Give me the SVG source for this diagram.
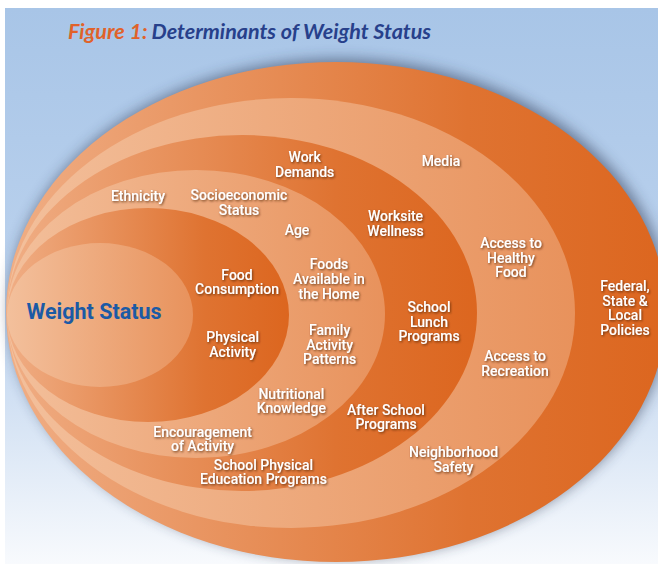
<svg xmlns="http://www.w3.org/2000/svg" width="658" height="564" viewBox="0 0 658 564">
  <defs>
    <linearGradient id="bg" x1="0" y1="0" x2="0" y2="1">
      <stop offset="0" stop-color="#a8c5e7"/>
      <stop offset="0.55" stop-color="#bdd3ee"/>
      <stop offset="1" stop-color="#f8fafd"/>
    </linearGradient>
    <linearGradient id="dark" x1="0" y1="0" x2="1" y2="0">
      <stop offset="0" stop-color="#f0ae85"/>
      <stop offset="0.7" stop-color="#df7331"/>
      <stop offset="1" stop-color="#dc661f"/>
    </linearGradient>
    <linearGradient id="light" x1="0" y1="0" x2="1" y2="0">
      <stop offset="0" stop-color="#f3c09c"/>
      <stop offset="1" stop-color="#e8925c"/>
    </linearGradient>
    <filter id="shadow" x="-10%" y="-10%" width="120%" height="120%">
      <feGaussianBlur stdDeviation="7"/>
    </filter>
    <filter id="ts" x="-10%" y="-30%" width="120%" height="160%">
      <feDropShadow dx="1" dy="1.2" stdDeviation="0.8" flood-color="#4a2410" flood-opacity="0.75"/>
    </filter>
    <style>
      .lbl { font-family: Roboto, "Liberation Sans", sans-serif; font-size: 14px; font-weight: 500; fill: #ffffff; text-anchor: middle; filter: url(#ts); }
      .dk { fill: url(#dark); }
      .lt { fill: url(#light); }
      .title { font-family: Lato, "Open Sans", sans-serif; font-size: 21.5px; font-weight: bold; font-style: italic; }
    </style>
  </defs>

  <rect x="0" y="0" width="658" height="564" fill="#ffffff"/>
  <rect x="5" y="8" width="653" height="556" fill="url(#bg)"/>

  <g id="title">
    <text class="title" x="68" y="39"><tspan fill="#e0622a">Figure 1:</tspan><tspan fill="#27408b" dx="4">Determinants of Weight Status</tspan></text>
  </g>

  <ellipse cx="339" cy="309" rx="330" ry="250" fill="#2a3550" opacity="0.55" filter="url(#shadow)"/>

  <g id="ring-policies">
    <ellipse class="dk" cx="336" cy="312" rx="330" ry="250"/>
    <text class="lbl" x="625" y="291">Federal,</text>
    <text class="lbl" x="625" y="305.7">State &amp;</text>
    <text class="lbl" x="625" y="320.3">Local</text>
    <text class="lbl" x="625" y="335">Policies</text>
  </g>

  <g id="ring-community">
    <ellipse class="lt" cx="291" cy="313" rx="284" ry="215"/>
    <text class="lbl" x="441" y="166">Media</text>
    <text class="lbl" x="511" y="248.3">Access to</text>
    <text class="lbl" x="511" y="262.7">Healthy</text>
    <text class="lbl" x="511" y="277">Food</text>
    <text class="lbl" x="515" y="361">Access to</text>
    <text class="lbl" x="515" y="375.7">Recreation</text>
    <text class="lbl" x="453.5" y="457.3">Neighborhood</text>
    <text class="lbl" x="453.5" y="472">Safety</text>
  </g>

  <g id="ring-organizational">
    <ellipse class="dk" cx="242" cy="313" rx="235" ry="178"/>
    <text class="lbl" x="304.7" y="162">Work</text>
    <text class="lbl" x="304.7" y="176.7">Demands</text>
    <text class="lbl" x="395.5" y="221">Worksite</text>
    <text class="lbl" x="395.5" y="236">Wellness</text>
    <text class="lbl" x="429" y="312.3">School</text>
    <text class="lbl" x="429" y="326.7">Lunch</text>
    <text class="lbl" x="429" y="340.7">Programs</text>
    <text class="lbl" x="386" y="415">After School</text>
    <text class="lbl" x="386" y="429.3">Programs</text>
    <text class="lbl" x="263.4" y="470">School Physical</text>
    <text class="lbl" x="263.4" y="484">Education Programs</text>
  </g>

  <g id="ring-interpersonal">
    <ellipse class="lt" cx="196" cy="314" rx="189" ry="144"/>
    <text class="lbl" x="138" y="201">Ethnicity</text>
    <text class="lbl" x="239" y="200">Socioeconomic</text>
    <text class="lbl" x="239" y="215">Status</text>
    <text class="lbl" x="297" y="235">Age</text>
    <text class="lbl" x="329" y="268.6">Foods</text>
    <text class="lbl" x="329" y="283.5">Available in</text>
    <text class="lbl" x="329" y="298.5">the Home</text>
    <text class="lbl" x="329.7" y="335.3">Family</text>
    <text class="lbl" x="329.7" y="349.8">Activity</text>
    <text class="lbl" x="329.7" y="363.6">Patterns</text>
    <text class="lbl" x="291.4" y="399">Nutritional</text>
    <text class="lbl" x="291.4" y="412.7">Knowledge</text>
    <text class="lbl" x="202.6" y="436.7">Encouragement</text>
    <text class="lbl" x="202.6" y="450.7">of Activity</text>
  </g>

  <g id="ring-behaviors">
    <ellipse class="dk" cx="148" cy="315" rx="141" ry="107"/>
    <text class="lbl" x="237" y="280">Food</text>
    <text class="lbl" x="237" y="294.3">Consumption</text>
    <text class="lbl" x="232.7" y="342">Physical</text>
    <text class="lbl" x="232.7" y="356.7">Activity</text>
  </g>

  <g id="weight-status">
    <ellipse class="lt" cx="100" cy="315" rx="93" ry="72"/>
    <text x="94" y="319.3" font-family="Roboto, 'Liberation Sans', sans-serif" font-size="21.5" font-weight="bold" fill="#1b5aa5" text-anchor="middle">Weight Status</text>
  </g>

  <g id="connectors"/>
</svg>
